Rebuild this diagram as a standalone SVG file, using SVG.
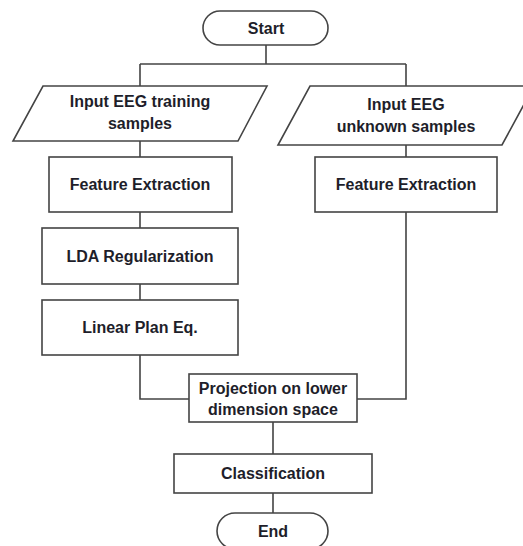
<svg xmlns="http://www.w3.org/2000/svg" width="523" height="546" viewBox="0 0 523 546">
<style>
.s{fill:#fff;stroke:#444;stroke-width:1.6}
.c{fill:none;stroke:#444;stroke-width:1.6}
text{font-family:"Liberation Sans",Arial,sans-serif;font-weight:bold;font-size:16px;fill:#1e1e2a;text-anchor:middle}
</style>
<rect width="523" height="546" fill="#fff"/>
<g id="connectors">
<path class="c" d="M266 45V64M140 64H406M140 64V86M406 64V86"/>
<path class="c" d="M140 141V157M140 212V228M140 284V300M140 355V399H189"/>
<path class="c" d="M406 145V157M406 212V399H357"/>
<path class="c" d="M273 422V454M273 493V513"/>
</g>
<g id="start"><rect class="s" x="203" y="11" width="125" height="34" rx="17"/><text x="266" y="34">Start</text></g>
<g id="input-training"><polygon class="s" points="43,86 267,86 238,141 13,141"/><text x="140" y="107">Input EEG training</text><text x="140" y="129">samples</text></g>
<g id="input-unknown"><polygon class="s" points="310,86 534,86 502,145 278,145"/><text x="406" y="110">Input EEG</text><text x="406" y="132">unknown samples</text></g>
<g id="fe-left"><rect class="s" x="49" y="157" width="183" height="55"/><text x="140" y="190">Feature Extraction</text></g>
<g id="fe-right"><rect class="s" x="315" y="157" width="182" height="55"/><text x="406" y="190">Feature Extraction</text></g>
<g id="lda"><rect class="s" x="42" y="228" width="196" height="56"/><text x="140" y="262">LDA Regularization</text></g>
<g id="linear"><rect class="s" x="42" y="300" width="196" height="55"/><text x="140" y="333">Linear Plan Eq.</text></g>
<g id="projection"><rect class="s" x="189" y="374" width="168" height="48"/><text x="273" y="394">Projection on lower</text><text x="273" y="415">dimension space</text></g>
<g id="classification"><rect class="s" x="174" y="454" width="198" height="39"/><text x="273" y="479">Classification</text></g>
<g id="end"><rect class="s" x="217" y="513" width="111" height="36" rx="18"/><text x="273" y="537">End</text></g>
</svg>
